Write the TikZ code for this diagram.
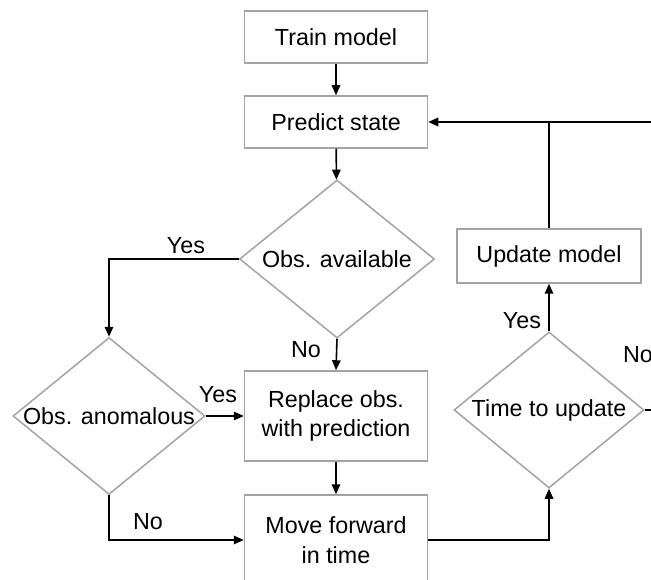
\documentclass[tikz,border=0pt]{standalone}
\usepackage{fontspec}
\setmainfont{Liberation Sans}
\usetikzlibrary{shapes.geometric,arrows.meta}
\tikzset{
  boxnode/.style={draw=black!36, line width=1.5pt, fill=white, rectangle,
    minimum width=183pt, inner sep=0pt, align=center},
  decision/.style={draw=black!36, line width=1.5pt, fill=white, diamond,
    inner sep=0pt},
  flow/.style={draw=black, line width=1.6pt,
    -{Triangle[length=10pt,width=8.5pt]}},
  plainline/.style={draw=black, line width=1.6pt},
  tag/.style={inner sep=0pt}
}
\begin{document}
\begin{tikzpicture}[x=1pt, y=-1pt, font=\fontsize{23.3}{29.5}\selectfont]
\clip (0,0) rectangle (651,580);
\fill[white] (0,0) rectangle (651,580);

% process boxes
\node[boxnode, minimum height=52pt] (train)   at (336,37)  {Train model};
\node[boxnode, minimum height=52pt] (predict) at (336,122) {Predict state};
\node[boxnode, minimum height=90pt] (replace) at (336,416) {Replace obs.\\with prediction};
\node[boxnode, minimum height=90pt] (move)    at (336,540) {Move forward\\in time};
\node[boxnode, minimum width=184pt, minimum height=54pt] (update) at (549,256) {Update model};

% decisions
\node[decision, minimum width=195pt, minimum height=158pt] (avail) at (337,259)
  {\makebox[0pt]{\raisebox{-3pt}{Obs. available}}};
\node[decision, minimum width=192pt, minimum height=157pt] (anom) at (109,416)
  {\makebox[0pt]{Obs. anomalous}};
\node[decision, minimum width=190pt, minimum height=156pt] (time) at (549,410)
  {\makebox[0pt]{Time to update}};

% loop-back route on the right
\coordinate (r1) at (675,410);
\coordinate (r2) at (675,122);

% connectors
\draw[flow] (train) -- (predict);
\draw[flow] (predict) -- (avail);
\draw[flow] (avail.west) -| (anom.north);
\draw[flow] (avail.south) -- (replace.north);
\draw[flow] (anom.east) -- (replace.west);
\draw[flow] (anom.south) |- (move.west);
\draw[flow] (replace) -- (move);
\draw[flow] (move.east) -| (time.south);
\draw[flow] (time.north) -- (update.south);
\draw[plainline] (update.north) -- (update.north |- predict.east);
\draw[flow] (time.east) -- (r1) -- (r2) -- (predict.east);

% branch labels
\node[tag] (yes1) at (186,246) {Yes};
\node[tag] (no1)  at (306,350) {No};
\node[tag] (yes2) at (218,395) {Yes};
\node[tag] (no2)  at (148,522) {No};
\node[tag] (yes3) at (522,321) {Yes};
\node[tag] (no3)  at (638,355) {No};
\end{tikzpicture}
\end{document}
